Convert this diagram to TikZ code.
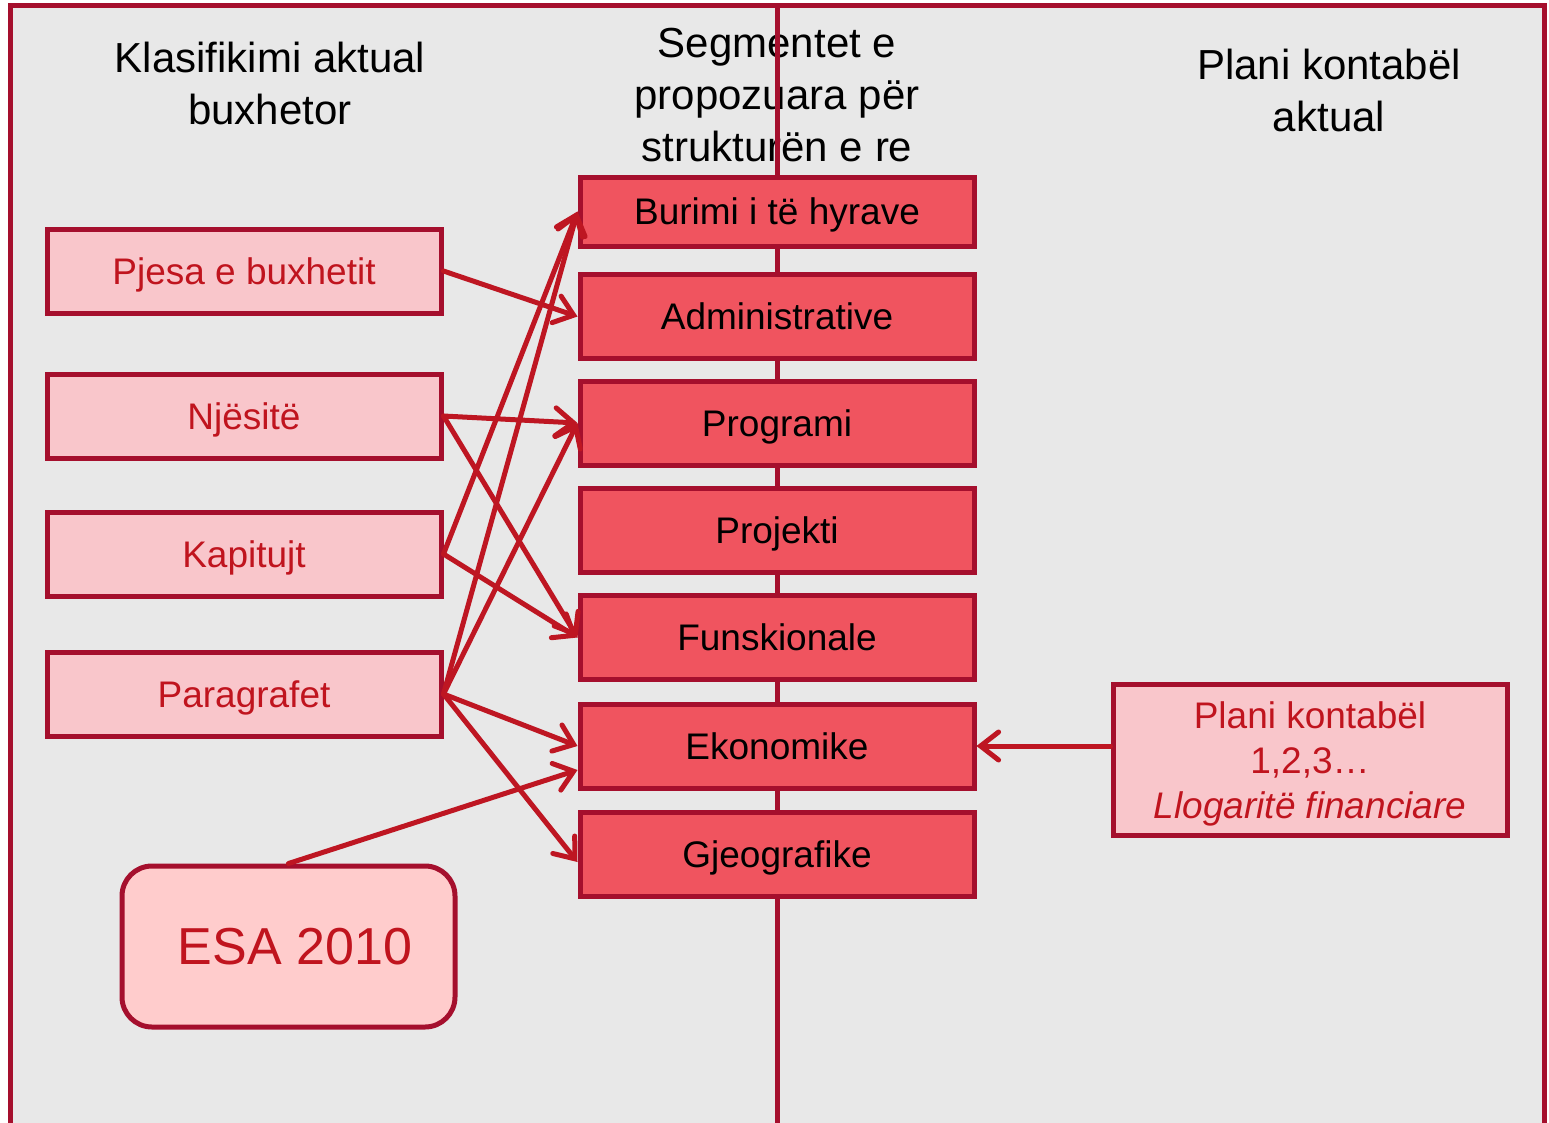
\documentclass[tikz,border=0pt]{standalone}
\usepackage{fontspec}
\setmainfont{Liberation Sans}
\usetikzlibrary{arrows.meta,calc}
\definecolor{framecol}{HTML}{A50F2D}
\definecolor{arrcol}{HTML}{BE1622}
\definecolor{bgcol}{HTML}{E8E8E8}
\definecolor{lpink}{HTML}{F9C6CB}
\definecolor{mred}{HTML}{F0545F}
\definecolor{esafill}{HTML}{FFCCCC}
\definecolor{txtred}{HTML}{C0141E}
\begin{document}
\begin{tikzpicture}[x=1pt,y=-1pt,
 leftbox/.style={draw=framecol, line width=5pt, fill=lpink, minimum width=394pt, minimum height=84pt, inner sep=0pt, text=txtred, text height=33pt, text depth=7pt, font=\fontsize{37}{44}\selectfont},
 midbox/.style={draw=framecol, line width=5pt, fill=mred, minimum width=394pt, minimum height=84pt, inner sep=0pt, text=black, text height=33pt, text depth=7pt, font=\fontsize{37}{44}\selectfont},
 titletext/.style={align=center, inner sep=0pt, font=\fontsize{42}{52}\selectfont},
 conn/.style={draw=arrcol, line width=5pt, line cap=round, -{Straight Barb[length=18pt,width=28pt,line cap=round]}}]
\useasboundingbox (0,0) rectangle (1549,1122);
\fill[white] (0,0) rectangle (1549,1122);
\draw[framecol, line width=5pt, fill=bgcol] (10,5) rectangle (1544,1135);
% titles
\node[titletext] (t1) at (270,83) {Klasifikimi aktual\\buxhetor};
\node[titletext] (t2) at (777,95) {Segmentet e\\propozuara për\\strukturën e re};
\node[titletext] (t3) at (1329,90) {Plani kontabël\\aktual};
% vertical separator
\draw[framecol, line width=5pt] (777,5) -- (777,1135);
% left boxes
\node[leftbox] (pjesa) at (244,271) {Pjesa e buxhetit};
\node[leftbox] (njesi) at (244,416) {Njësitë};
\node[leftbox] (kapit) at (244,554) {Kapitujt};
\node[leftbox] (parag) at (244,694) {Paragrafet};
% middle boxes
\node[midbox, minimum height=69pt] (burimi) at (777,211.5) {Burimi i të hyrave};
\node[midbox] (admin) at (777,316.5) {Administrative};
\node[midbox] (prog) at (777,423) {Programi};
\node[midbox] (proj) at (777,530) {Projekti};
\node[midbox] (funk) at (777,637.5) {Funskionale};
\node[midbox] (eko) at (777,746) {Ekonomike};
\node[midbox] (gjeo) at (777,854) {Gjeografike};
% right box
\node[draw=framecol, line width=5pt, fill=lpink, minimum width=394pt, minimum height=151pt, inner sep=0pt, text=txtred, font=\fontsize{37}{45}\selectfont] (plani) at (1310,759.5) {\raisebox{-11pt}[0pt][0pt]{\begin{tabular}[c]{@{}c@{}}Plani kontabël\\1,2,3…\\\textit{Llogaritë financiare}\end{tabular}}};
% ESA
\node[draw=framecol, line width=5pt, fill=esafill, rounded corners=30pt, minimum width=333pt, minimum height=161pt, inner sep=0pt, text=txtred, font=\fontsize{52}{60}\selectfont] (esa) at (288.5,946.5) {\hspace*{13pt}\raisebox{-2pt}{ESA 2010}};
% connectors
\draw[conn] (pjesa.east) -- (admin.west);
\draw[conn] (njesi.east) -- (prog.west);
\draw[conn] (njesi.east) -- (funk.west);
\draw[conn] (kapit.east) -- (burimi.west);
\draw[conn] (kapit.east) -- (funk.west);
\draw[conn] (parag.east) -- (burimi.west);
\draw[conn] (parag.east) -- (prog.west);
\draw[conn] (parag.east) -- (eko.west);
\draw[conn] (parag.east) -- ($(gjeo.west)+(0,8)$);
\draw[conn] (esa.north) -- ($(eko.west)+(0,24)$);
\draw[conn] (plani.west |- eko.east) -- (eko.east);
\end{tikzpicture}
\end{document}
